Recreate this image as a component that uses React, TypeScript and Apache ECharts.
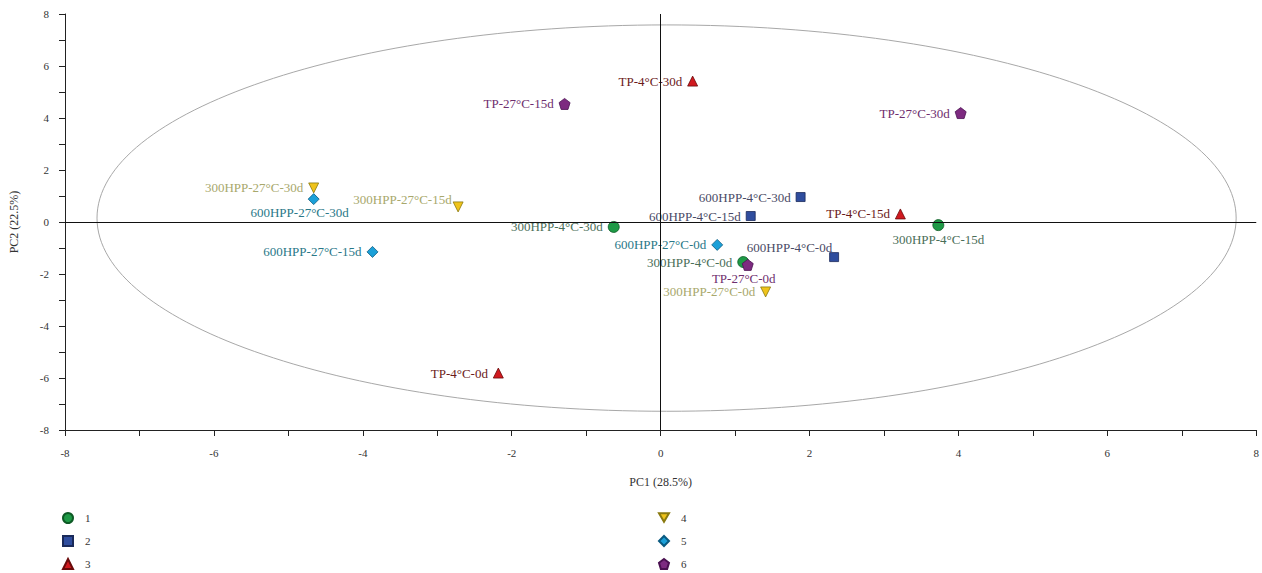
import React, { useEffect, useRef } from "react";
import * as echarts from "echarts";

const xTicks = [-8, -6, -4, -2, 0, 2, 4, 6, 8];

const s1Names = ["300HPP-4°C-30d", "300HPP-4°C-15d", "300HPP-4°C-0d"];
const s1Values = [[-0.63, -0.19], [3.73, -0.12], [1.11, -1.54]];

const s2Names = ["600HPP-4°C-30d", "600HPP-4°C-15d", "600HPP-4°C-0d"];
const s2Values = [[1.88, 0.96], [1.21, 0.23], [2.33, -1.35]];

const s3Names = ["TP-4°C-30d", "TP-4°C-15d", "TP-4°C-0d"];
const s3Values = [[0.43, 5.42], [3.22, 0.31], [-2.18, -5.81]];

const s4Names = ["300HPP-27°C-30d", "300HPP-27°C-15d", "300HPP-27°C-0d"];
const s4Values = [[-4.66, 1.31], [-2.72, 0.58], [1.41, -2.69]];

const s5Names = ["600HPP-27°C-30d", "600HPP-27°C-15d", "600HPP-27°C-0d"];
const s5Values = [[-4.66, 0.88], [-3.87, -1.15], [0.76, -0.88]];

const s6Names = ["TP-27°C-30d", "TP-27°C-15d", "TP-27°C-0d"];
const s6Values = [[4.03, 4.19], [-1.29, 4.54], [1.17, -1.65]];

const groupNames = ["1", "2", "3", "4", "5", "6"];

// confidence ellipse: center x, center y, radius x, radius y
const ellipse = [[0.08, 0.15, 7.65, 7.43]];

const FONT = "Liberation Serif";

const labelOverrides: Record<string, any> = {
  "300HPP-4°C-15d": { position: "bottom", distance: 2 },
  "600HPP-4°C-0d": { position: [3, -5], align: "right", verticalAlign: "middle" },
  "300HPP-27°C-15d": { position: [-1, -2], align: "right", verticalAlign: "middle" },
  "600HPP-27°C-30d": { position: "bottom", distance: 1, offset: [-14, 0] },
  "TP-27°C-0d": { position: "bottom", distance: 1, offset: [-4, 0] },
};

const PENTAGON = "path://M50,0 L100,38 L81,100 L19,100 L0,38 Z";
const DOWN_TRI = "path://M0,0 L100,0 L50,87 Z";

function makeSeries(
  name: string,
  names: string[],
  values: number[][],
  symbol: string,
  size: number,
  fill: string,
  border: string,
  labelColor: string
) {
  return {
    name,
    type: "scatter",
    symbol,
    symbolSize: size,
    itemStyle: { color: fill, borderColor: border, borderWidth: 0.8, opacity: 1 },
    label: {
      show: true,
      formatter: "{b}",
      position: "left",
      distance: 5,
      color: labelColor,
      fontFamily: FONT,
      fontSize: 13,
    },
    data: names.map((n, i) => {
      const o = labelOverrides[n];
      const d: any = { name: n, value: values[i] };
      if (o) d.label = o;
      return d;
    }),
  };
}

export default function App() {
  const ref = useRef<HTMLDivElement>(null);
  useEffect(() => {
    document.body.style.margin = "0";
    const chart = echarts.init(ref.current!, undefined, { renderer: "svg" });
    const axisCommon = {
      type: "value",
      min: -8,
      max: 8,
      interval: 1,
      splitLine: { show: false },
      axisLine: { show: true, onZero: false, lineStyle: { color: "#222", width: 1 } },
      axisTick: { show: true, length: 6, lineStyle: { color: "#222" } },
      axisLabel: {
        color: "#333",
        fontFamily: FONT,
        fontSize: 11,
        formatter: (v: number) => (xTicks.indexOf(v) >= 0 ? String(v) : ""),
      },
      nameTextStyle: { color: "#333", fontFamily: FONT, fontSize: 12 },
    };
    const legends = groupNames.map((g, i) => ({
      data: [g],
      orient: "vertical",
      left: i < 3 ? 62 : 658,
      top: 512 + (i % 3) * 23,
      padding: 0,
      itemWidth: 10,
      itemHeight: 10,
      textStyle: { color: "#333", fontFamily: FONT, fontSize: 11, padding: [0, 0, 0, 7] },
    }));
    chart.setOption({
      animation: false,
      backgroundColor: "#fff",
      grid: { left: 63, right: 5, top: 14, bottom: 143, containLabel: false },
      xAxis: {
        ...axisCommon,
        name: "PC1 (28.5%)",
        nameLocation: "middle",
        nameGap: 46,
        axisLabel: { ...axisCommon.axisLabel, margin: 17 },
      },
      yAxis: {
        ...axisCommon,
        name: "PC2 (22.5%)",
        nameLocation: "middle",
        nameGap: 45,
        axisLabel: { ...axisCommon.axisLabel, margin: 16 },
      },
      legend: legends,
      series: [
        {
          type: "custom",
          name: "ellipse",
          silent: true,
          z: 1,
          renderItem: (params: any, api: any) => {
            const c = api.coord([api.value(0), api.value(1)]);
            const s = api.size([api.value(2), api.value(3)]);
            return {
              type: "ellipse",
              shape: { cx: c[0], cy: c[1], rx: s[0], ry: s[1] },
              style: { fill: "none", stroke: "#a8a8a8", lineWidth: 1 },
            };
          },
          data: ellipse,
          markLine: {
            silent: true,
            symbol: "none",
            label: { show: false },
            lineStyle: { color: "#111", width: 1, type: "solid" },
            data: [{ xAxis: 0 }, { yAxis: 0 }],
          },
        },
        makeSeries("1", s1Names, s1Values, "circle", 11, "#1e9a46", "#0d5a25", "#4a6e58"),
        makeSeries("2", s2Names, s2Values, "rect", 9, "#2f4d9e", "#1a2a5a", "#4a4a66"),
        makeSeries("3", s3Names, s3Values, "triangle", 10, "#d0191f", "#6a0a0a", "#6b1a1a"),
        makeSeries("4", s4Names, s4Values, DOWN_TRI, 10, "#efc31b", "#8a7a10", "#a8a86c"),
        makeSeries("5", s5Names, s5Values, "diamond", 11, "#1ba0d8", "#0a5a80", "#2a7888"),
        makeSeries("6", s6Names, s6Values, PENTAGON, 11, "#7d2a80", "#4a1050", "#6e2e6e"),
      ],
    });
    return () => chart.dispose();
  }, []);
  return <div ref={ref} style={{ width: 1262, height: 573 }} />;
}
